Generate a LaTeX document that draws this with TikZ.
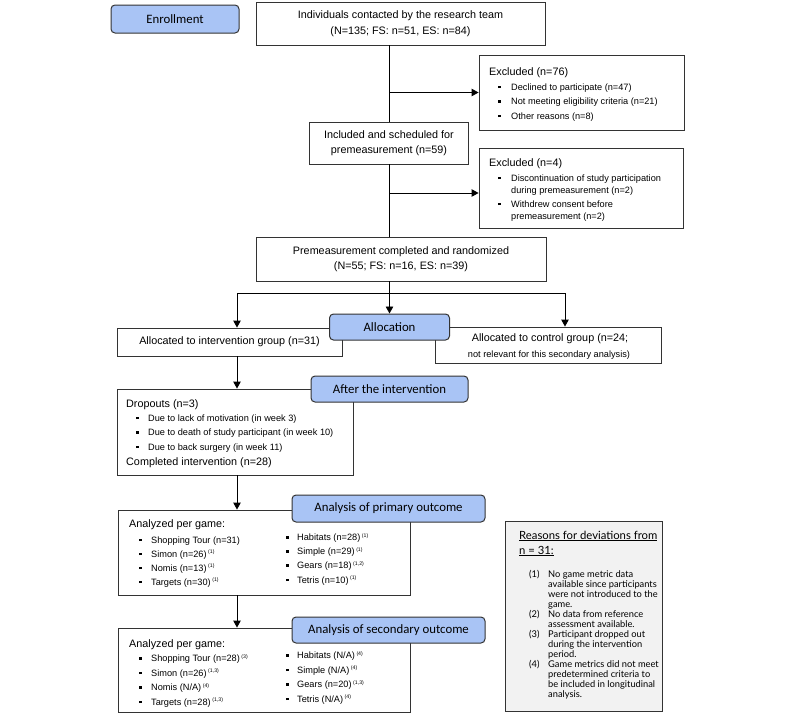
\documentclass[tikz,border=0pt]{standalone}
\usepackage{fontspec}
\setmainfont{Liberation Sans}
\newfontfamily\carl{Carlito}
\newfontfamily\lato{Lato}
\usetikzlibrary{arrows.meta}
\definecolor{blueF}{HTML}{A9C4F5}
\definecolor{lineC}{HTML}{333333}
\definecolor{grayF}{HTML}{F2F2F2}
\newcommand{\sq}{\raisebox{2pt}{\rule{2.4pt}{2.4pt}}}
\newcommand{\fs}[2]{\fontsize{#1}{#2}\selectfont}
\newcommand{\sps}[1]{\,\raisebox{3.4pt}{\fontsize{5.2}{6}\selectfont(#1)}}
\begin{document}
\begin{tikzpicture}[x=1pt,y=-1pt,
  box/.style={draw=lineC,line width=0.9pt,fill=white,inner sep=0pt,rectangle},
  bluebox/.style={draw=lineC,line width=1pt,fill=blueF,rounded corners=4pt,inner sep=0pt,font=\carl\fs{12.8}{15}},
  tl/.style={anchor=base west,inner sep=0pt},
  tc/.style={anchor=base,inner sep=0pt},
  big/.style={font=\fs{10.8}{13}},
  sml/.style={font=\fs{9.2}{11}},
  rs/.style={font=\lato\fs{9.3}{10}},
  conn/.style={draw=black,line width=0.9pt},
  arr/.style={conn,-{Triangle[length=7pt,width=7.5pt]}}]
\useasboundingbox (0,0) rectangle (800,720);

% ---------- boxes ----------
\node[box,minimum width=289pt,minimum height=43pt,align=center,font=\fs{10.8}{15.5}] (indiv) at (400.5,23.5)
  {Individuals contacted by the research team\\(N=135; FS: n=51, ES: n=84)};
\node[box,minimum width=205pt,minimum height=75pt] (excl1) at (581.5,92.5) {};
\node[box,minimum width=159pt,minimum height=42pt,align=center,font=\fs{10.8}{14.5}] (incl) at (389,143)
  {Included and scheduled for\\premeasurement (n=59)};
\node[box,minimum width=204pt,minimum height=80pt] (excl2) at (581,188) {};
\node[box,minimum width=290pt,minimum height=44pt,align=center,font=\fs{10.8}{15.5}] (premeas) at (401,259)
  {Premeasurement completed and randomized\\(N=55; FS: n=16, ES: n=39)};
\node[box,minimum width=225pt,minimum height=28pt,big] (interv) at (229.5,342)
  {Allocated to intervention group (n=31)};
\node[box,minimum width=226pt,minimum height=36pt] (ctrl) at (548,345) {};
\node[box,minimum width=236pt,minimum height=86pt] (drop) at (235,432) {};
\node[box,minimum width=292pt,minimum height=85pt] (primbox) at (264,552.5) {};
\node[box,minimum width=292pt,minimum height=84pt] (secbox) at (264,670) {};
\node[box,fill=grayF,minimum width=157pt,minimum height=190pt] (reasons) at (583.5,616) {};

% ---------- texts ----------
\node[tl,big] (e1h) at (489,75.5) {Excluded (n=76)};
\node[tl,sml] (e1a) at (498,90) {\makebox[13pt][l]{\sq}Declined to participate (n=47)};
\node[tl,sml] (e1b) at (498,104.5) {\makebox[13pt][l]{\sq}Not meeting eligibility criteria (n=21)};
\node[tl,sml] (e1c) at (498,119) {\makebox[13pt][l]{\sq}Other reasons (n=8)};

\node[tl,big] (e2h) at (489,166.5) {Excluded (n=4)};
\node[tl,sml] (e2a) at (498,181) {\makebox[13pt][l]{\sq}Discontinuation of study participation};
\node[tl,sml] (e2b) at (511,193) {during premeasurement (n=2)};
\node[tl,sml] (e2c) at (498,207) {\makebox[13pt][l]{\sq}Withdrew consent before};
\node[tl,sml] (e2d) at (511,219) {premeasurement (n=2)};

\node[tc,big] (c1) at (550,341.5) {Allocated to control group (n=24;};
\node[tc,font=\fs{9.2}{11}] (c2) at (549,357) {not relevant for this secondary analysis)};

\node[tl,big] (dh) at (126,407.5) {Dropouts (n=3)};
\node[tl,sml] (d1) at (136,421) {\makebox[12pt][l]{\sq}Due to lack of motivation (in week 3)};
\node[tl,sml] (d2) at (136,435.5) {\makebox[12pt][l]{\sq}Due to death of study participant (in week 10)};
\node[tl,sml] (d3) at (136,450) {\makebox[12pt][l]{\sq}Due to back surgery (in week 11)};
\node[tl,big] (dc) at (126,465.5) {Completed intervention (n=28)};

\node[tl,big] (ph) at (129,527.5) {Analyzed per game:};
\node[tl,sml] (p1) at (139,543) {\makebox[12pt][l]{\sq}Shopping Tour (n=31)};
\node[tl,sml] (p2) at (139,557) {\makebox[12pt][l]{\sq}Simon (n=26)\sps{1}};
\node[tl,sml] (p3) at (139,571) {\makebox[12pt][l]{\sq}Nomis (n=13)\sps{1}};
\node[tl,sml] (p4) at (139,585) {\makebox[12pt][l]{\sq}Targets (n=30)\sps{1}};
\node[tl,sml] (p5) at (286,540.5) {\makebox[11pt][l]{\sq}Habitats (n=28)\sps{1}};
\node[tl,sml] (p6) at (286,554.5) {\makebox[11pt][l]{\sq}Simple (n=29)\sps{1}};
\node[tl,sml] (p7) at (286,568.5) {\makebox[11pt][l]{\sq}Gears (n=18)\sps{1,2}};
\node[tl,sml] (p8) at (286,583) {\makebox[11pt][l]{\sq}Tetris (n=10)\sps{1}};

\node[tl,big] (sh) at (129,647.5) {Analyzed per game:};
\node[tl,sml] (s1) at (139,661.5) {\makebox[12pt][l]{\sq}Shopping Tour (n=28)\sps{3}};
\node[tl,sml] (s2) at (139,676) {\makebox[12pt][l]{\sq}Simon (n=26)\sps{1,3}};
\node[tl,sml] (s3) at (139,690.5) {\makebox[12pt][l]{\sq}Nomis (N/A)\sps{4}};
\node[tl,sml] (s4) at (139,705) {\makebox[12pt][l]{\sq}Targets (n=28)\sps{1,3}};
\node[tl,sml] (s5) at (286,658.5) {\makebox[11pt][l]{\sq}Habitats (N/A)\sps{4}};
\node[tl,sml] (s6) at (286,673) {\makebox[11pt][l]{\sq}Simple (N/A)\sps{4}};
\node[tl,sml] (s7) at (286,687.5) {\makebox[11pt][l]{\sq}Gears (n=20)\sps{1,3}};
\node[tl,sml] (s8) at (286,702) {\makebox[11pt][l]{\sq}Tetris (N/A)\sps{4}};

\node[tl,font=\lato\fs{11.3}{12}] (rh1) at (519,539) {\underline{Reasons for deviations from}};
\node[tl,font=\lato\fs{11.3}{12}] (rh2) at (519,554) {\underline{n = 31:}};
\node[tl,rs] (r1n) at (529,577) {(1)};
\node[tl,rs] (r1a) at (548,577) {No game metric data};
\node[tl,rs] (r1b) at (548,587) {available since participants};
\node[tl,rs] (r1c) at (548,597) {were not introduced to the};
\node[tl,rs] (r1d) at (548,607) {game.};
\node[tl,rs] (r2n) at (529,617) {(2)};
\node[tl,rs] (r2a) at (548,617) {No data from reference};
\node[tl,rs] (r2b) at (548,627) {assessment available.};
\node[tl,rs] (r3n) at (529,637) {(3)};
\node[tl,rs] (r3a) at (548,637) {Participant dropped out};
\node[tl,rs] (r3b) at (548,647) {during the intervention};
\node[tl,rs] (r3c) at (548,657) {period.};
\node[tl,rs] (r4n) at (529,667) {(4)};
\node[tl,rs] (r4a) at (548,667) {Game metrics did not meet};
\node[tl,rs] (r4b) at (548,677) {predetermined criteria to};
\node[tl,rs] (r4c) at (548,687) {be included in longitudinal};
\node[tl,rs] (r4d) at (548,697) {analysis.};

% ---------- phase labels ----------
\node[bluebox,minimum width=128pt,minimum height=28pt] (enroll) at (175,19) {Enrollment};
\node[bluebox,minimum width=120pt,minimum height=26pt] (alloc) at (389.5,327) {Allocation};
\node[bluebox,minimum width=157pt,minimum height=26pt] (after) at (389.5,389) {After the intervention};
\node[bluebox,minimum width=193pt,minimum height=27pt] (prim) at (388.5,508.5) {Analysis of primary outcome};
\node[bluebox,minimum width=193pt,minimum height=26pt] (sec) at (388.5,630) {Analysis of secondary outcome};

% ---------- connectors ----------
\coordinate (hl) at (237,293);
\coordinate (hr) at (565,293);
\draw[conn] (incl.north |- indiv.south) -- (incl.north);
\draw[arr] (excl1.west -| incl.north) -- (excl1.west);
\draw[conn] (incl.south) -- (incl.south |- premeas.north);
\draw[arr] (incl.south |- 0,193) -- (excl2.west |- 0,193);
\draw[arr] (premeas.south -| alloc.north) -- (alloc.north);
\draw[conn] (hl) -- (hr);
\draw[arr] (hl) -- (hl |- interv.north);
\draw[arr] (hr) -- (hr |- ctrl.north);
\draw[arr] (hl |- interv.south) -- (hl |- drop.north);
\draw[arr] (hl |- drop.south) -- (hl |- primbox.north);
\draw[arr] (hl |- primbox.south) -- (hl |- secbox.north);
\end{tikzpicture}
\end{document}
